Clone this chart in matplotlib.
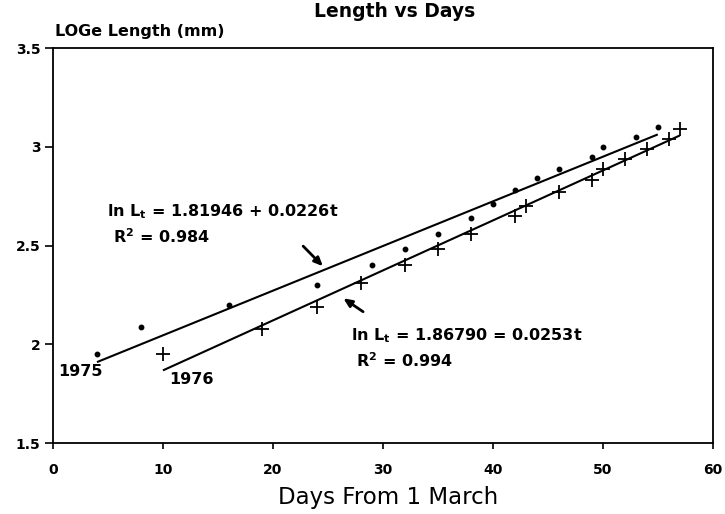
import matplotlib
matplotlib.use("Agg")
import matplotlib.pyplot as plt
import numpy as np

# ---- data ----
days_1975 = [4, 8, 16, 24, 29, 32, 35, 38, 40, 42, 44, 46, 49, 50, 53, 55]
loglen_1975 = [1.95, 2.09, 2.20, 2.30, 2.40, 2.48, 2.56, 2.64, 2.71, 2.78,
               2.84, 2.89, 2.95, 3.00, 3.05, 3.10]
days_1976 = [10, 19, 24, 28, 32, 35, 38, 42, 43, 46, 49, 50, 52, 54, 56, 57]
loglen_1976 = [1.95, 2.08, 2.19, 2.31, 2.40, 2.48, 2.56, 2.65, 2.70, 2.77,
               2.83, 2.89, 2.94, 2.99, 3.04, 3.09]

# fitted lines: intercept, slope, t-origin, x-range
fit_1975 = dict(a=1.81946, b=0.0226, t0=0, x=[4, 55])
fit_1976 = dict(a=1.86790, b=0.0253, t0=10, x=[10, 57])

xticks = [0, 10, 20, 30, 40, 50, 60]
yticks = [1.5, 2, 2.5, 3, 3.5]
ytick_labels = ["1.5", "2", "2.5", "3", "3.5"]

title = "Length vs Days"
ylabel = "LOGe Length (mm)"
xlabel = "Days From 1 March"

# ---- figure ----
fig = plt.figure(figsize=(7.25, 5.14), dpi=100)
ax = fig.add_axes([0.0731, 0.138, 0.910, 0.7686])
FONT = "DejaVu Sans"

for fit in (fit_1975, fit_1976):
    xs = np.array(fit["x"], dtype=float)
    ys = fit["a"] + fit["b"] * (xs - fit["t0"])
    ax.plot(xs, ys, color="black", lw=1.5, solid_capstyle="butt")

ax.plot(days_1975, loglen_1975, linestyle="none", marker="o", ms=3.2,
        color="black")
ax.plot(days_1976, loglen_1976, linestyle="none", marker="+", ms=10,
        mew=1.3, color="black")

ax.set_xlim(0, 60)
ax.set_ylim(1.5, 3.5)
ax.set_xticks(xticks)
ax.set_xticklabels([str(v) for v in xticks], fontsize=10, fontweight="bold",
                   family=FONT)
ax.set_yticks(yticks)
ax.set_yticklabels(ytick_labels, fontsize=10, fontweight="bold", family=FONT)
ax.tick_params(axis="x", direction="out", length=4.5, width=1.2, pad=10)
ax.tick_params(axis="y", direction="out", length=6, width=1.2, pad=3)
for s in ax.spines.values():
    s.set_linewidth(1.3)

# annotations
eq_kw = dict(fontsize=11.5, fontweight="bold", family=FONT, va="center",
             ha="left")
ax.text(4.9, 2.670, r"ln L$_{\mathbf{t}}$ = 1.81946 + 0.0226t", **eq_kw)
ax.text(5.45, 2.543, r"R$^{\mathbf{2}}$ = 0.984", **eq_kw)
ax.text(27.1, 2.042, r"ln L$_{\mathbf{t}}$ = 1.86790 = 0.0253t", **eq_kw)
ax.text(27.6, 1.915, r"R$^{\mathbf{2}}$ = 0.994", **eq_kw)
ax.text(0.45, 1.860, "1975", **eq_kw)
ax.text(10.6, 1.824, "1976", **eq_kw)

arrow = dict(arrowstyle="-|>,head_length=0.5,head_width=0.22", lw=2,
             color="black", shrinkA=0, shrinkB=0)
ax.annotate("", xy=(24.55, 2.395), xytext=(22.75, 2.497), arrowprops=arrow)
ax.annotate("", xy=(26.4, 2.233), xytext=(28.2, 2.165), arrowprops=arrow)

fig.text(0.544, 0.977, title, fontsize=13.5, fontweight="bold", family=FONT,
         ha="center", va="center")
fig.text(0.076, 0.938, ylabel, fontsize=11.5, fontweight="bold", family=FONT,
         ha="left", va="center")
fig.text(0.535, 0.033, xlabel, fontsize=16.5, family=FONT,
         ha="center", va="center")

fig.savefig("out.png", dpi=100)
